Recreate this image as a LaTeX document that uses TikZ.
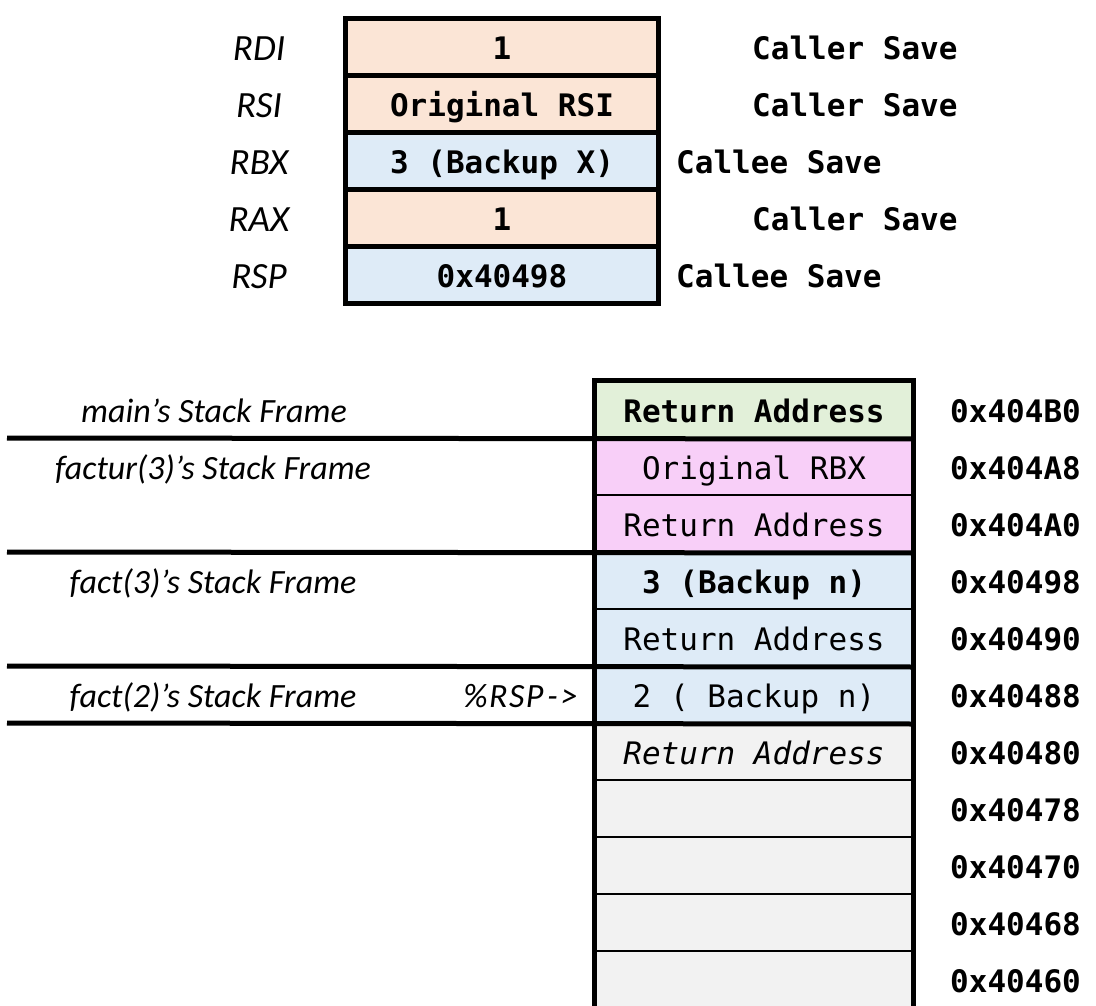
\documentclass[tikz,border=0pt]{standalone}
\usepackage{fontspec}
\setmainfont{Carlito}
\setmonofont{DejaVu Sans Mono}
\definecolor{peach}{HTML}{FBE5D6}
\definecolor{lblue}{HTML}{DEEBF7}
\definecolor{lgreen}{HTML}{E2F0D9}
\definecolor{lpink}{HTML}{F8CFF8}
\definecolor{lgray}{HTML}{F2F2F2}
\newcommand{\monosz}{\ttfamily\fontsize{31}{31}\selectfont}
\newcommand{\labsz}{\itshape\fontsize{34}{34}\selectfont}
\newcommand{\reglabsz}{\itshape\fontsize{37}{37}\selectfont}
\begin{document}
\begin{tikzpicture}[x=1pt,y=-1pt,
 cell/.style={draw, line width=2pt, minimum width=317pt, minimum height=57pt, inner sep=0pt,
   text height=25pt, text depth=0pt, font=\monosz},
 reg/.style={draw, line width=5pt, minimum width=313pt, minimum height=57pt, inner sep=0pt,
   text height=25pt, text depth=0pt, font=\monosz\bfseries},
 lab/.style={font=\labsz, inner sep=0pt, text height=25pt, text depth=0pt},
 reglab/.style={font=\reglabsz, inner sep=0pt, text height=27pt, text depth=0pt},
 note/.style={font=\monosz\bfseries, inner sep=0pt, anchor=west, text height=25pt, text depth=0pt},
 frameline/.style={line width=5pt}
]
\useasboundingbox (0,0) rectangle (1096,1006);

% register box
\node[reg, fill=peach] (r1) at (502,47) {1};
\node[reg, fill=peach] (r2) at (502,104) {Original RSI};
\node[reg, fill=lblue] (r3) at (502,161) {3 (Backup X)};
\node[reg, fill=peach] (r4) at (502,218) {1};
\node[reg, fill=lblue] (r5) at (502,275) {0x40498};

\node[reglab] (l1) at (259,47) {RDI};
\node[reglab] (l2) at (259,104) {RSI};
\node[reglab] (l3) at (259,161) {RBX};
\node[reglab] (l4) at (259,218) {RAX};
\node[reglab] (l5) at (259,275) {RSP};

\node[note] (n1) at (752,47) {Caller Save};
\node[note] (n2) at (752,104) {Caller Save};
\node[note] (n3) at (676,161) {Callee Save};
\node[note] (n4) at (752,218) {Caller Save};
\node[note] (n5) at (676,275) {Callee Save};

% stack
\node[cell, fill=lgreen, font=\monosz\bfseries] (s1) at (754,409.5) {Return Address};
\node[cell, fill=lpink] (s2) at (754,466.5) {Original RBX};
\node[cell, fill=lpink] (s3) at (754,523.5) {Return Address};
\node[cell, fill=lblue, font=\monosz\bfseries] (s4) at (754,580.5) {3 (Backup n)};
\node[cell, fill=lblue] (s5) at (754,637.5) {Return Address};
\node[cell, fill=lblue] (s6) at (754,694.5) {2 ( Backup n)};
\node[cell, fill=lgray, font=\monosz\itshape] (s7) at (754,751.5) {Return Address};
\node[cell, fill=lgray] (s8) at (754,808.5) {};
\node[cell, fill=lgray] (s9) at (754,865.5) {};
\node[cell, fill=lgray] (s10) at (754,922.5) {};
\node[cell, fill=lgray] (s11) at (754,979.5) {};

\draw[frameline, line join=miter] (s11.south west) -- (s1.north west) -- (s1.north east) -- (s11.south east);

\coordinate (f1) at (7,438);
\coordinate (f2) at (7,552);
\coordinate (f3) at (7,666);
\coordinate (f4) at (7,723);
\draw[frameline] (f1) -- (s1.south east);
\draw[frameline] (f2) -- (s3.south east);
\draw[frameline] (f3) -- (s5.south east);
\draw[frameline] (f4) -- (s6.south east);

\node[lab] (m1) at (214,409.5) {main’s Stack Frame};
\node[lab] (m2) at (213,466.5) {factur(3)’s Stack Frame};
\node[lab] (m3) at (213,580.5) {fact(3)’s Stack Frame};
\node[lab] (m4) at (213,694.5) {fact(2)’s Stack Frame};
\node[lab, anchor=east] (rsp) at (578,694.5) {\%\kern1.5pt R\kern1.5pt S\kern1.5pt P\kern4pt-\kern3pt>};

\node[note] (a1) at (950,409.5) {0x404B0};
\node[note] (a2) at (950,466.5) {0x404A8};
\node[note] (a3) at (950,523.5) {0x404A0};
\node[note] (a4) at (950,580.5) {0x40498};
\node[note] (a5) at (950,637.5) {0x40490};
\node[note] (a6) at (950,694.5) {0x40488};
\node[note] (a7) at (950,751.5) {0x40480};
\node[note] (a8) at (950,808.5) {0x40478};
\node[note] (a9) at (950,865.5) {0x40470};
\node[note] (a10) at (950,922.5) {0x40468};
\node[note] (a11) at (950,979.5) {0x40460};
\end{tikzpicture}
\end{document}
